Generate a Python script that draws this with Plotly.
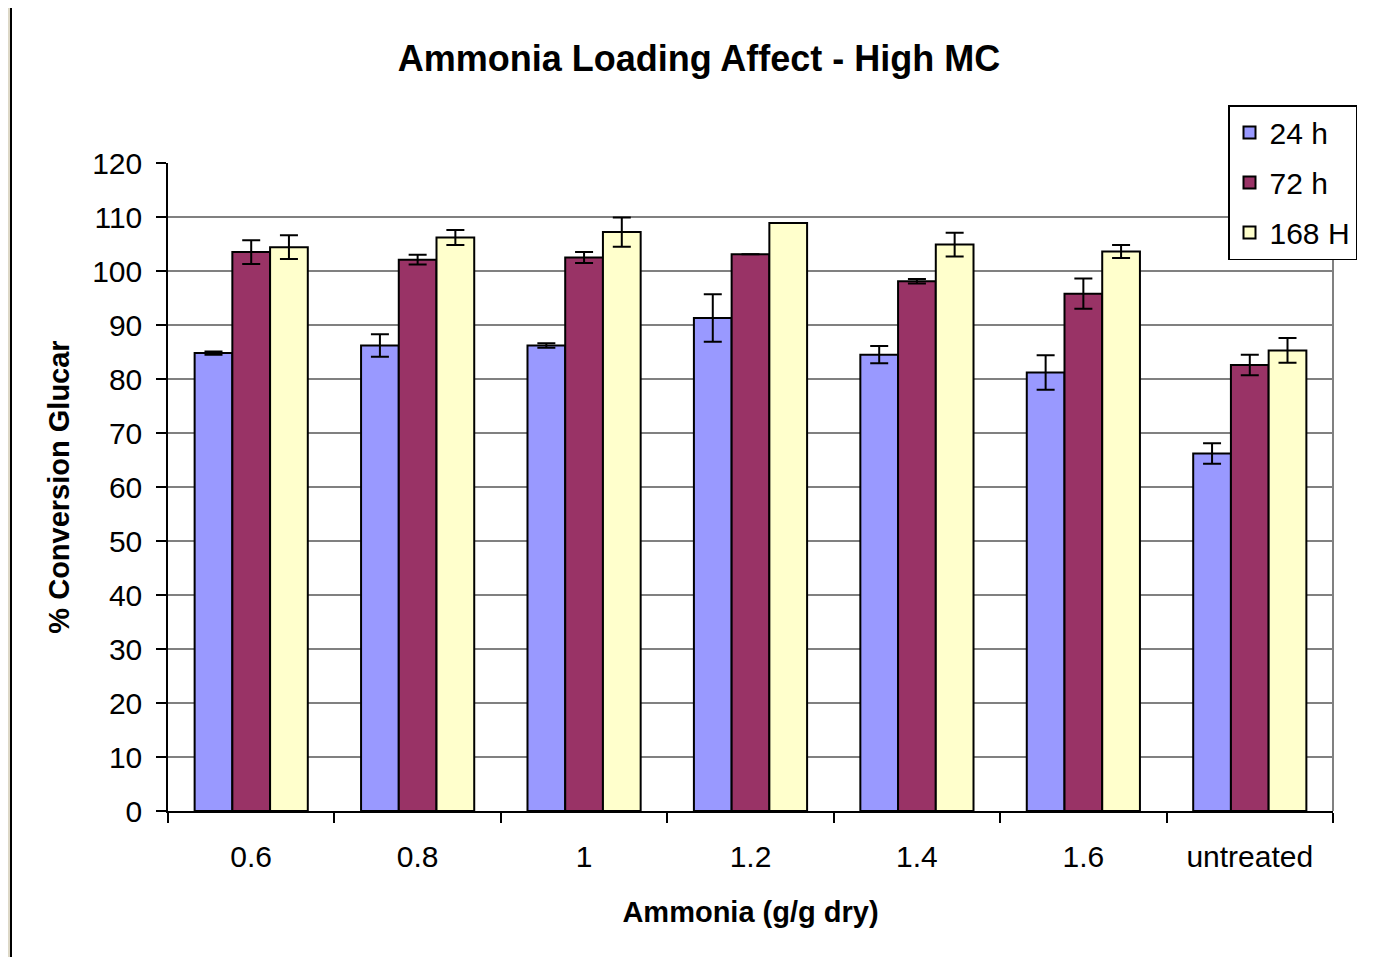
import plotly.graph_objects as go

categories = ["0.6", "0.8", "1", "1.2", "1.4", "1.6", "untreated"]
series_names = ["24 h", "72 h", "168 H"]
values_24h = [84.8, 86.2, 86.2, 91.3, 84.5, 81.2, 66.2]
values_72h = [103.5, 102.1, 102.5, 103.1, 98.1, 95.8, 82.6]
values_168h = [104.4, 106.2, 107.2, 108.9, 104.9, 103.6, 85.3]
err_24h = [0.3, 2.1, 0.4, 4.4, 1.6, 3.2, 1.9]
err_72h = [2.2, 0.9, 1.0, 0.0, 0.4, 2.8, 1.9]
err_168h = [2.2, 1.4, 2.7, 0.0, 2.2, 1.2, 2.3]
colors = ["#9999FF", "#993366", "#FFFFCC"]
y_ticks = [0, 10, 20, 30, 40, 50, 60, 70, 80, 90, 100, 110, 120]

FONT = "Liberation Sans, Arial, sans-serif"

fig = go.Figure()
for i, (name, vals, errs) in enumerate(zip(series_names,
                                           [values_24h, values_72h, values_168h],
                                           [err_24h, err_72h, err_168h])):
    fig.add_trace(go.Bar(
        name=name, x=categories, y=vals,
        marker=dict(color=colors[i], line=dict(color="black", width=2)),
        error_y=dict(type="data", array=errs, visible=True,
                     color="black", thickness=2, width=9),
        legendgroup=name,
    ))

# page body has an 8px margin; work in page pixels and shift
OFF = 8
W, H = 1385 - OFF, 957 - OFF
L, R, T, B = 168 - OFF, 1333 - OFF, 163 - OFF, 811 - OFF
pw, ph = R - L, B - T

def px_x(x):
    return (x - OFF - L) / pw

def px_y(y):
    return (B - (y - OFF)) / ph

fig.update_layout(
    width=W, height=H,
    margin=dict(l=L, r=W - R, t=T, b=H - B, autoexpand=False),
    paper_bgcolor="#DDD8C7",
    plot_bgcolor="white",
    barmode="group",
    bargap=0.32,
    bargroupgap=0,
    font=dict(family=FONT, size=30, color="black"),
    title=dict(text="<b>Ammonia Loading Affect - High MC</b>",
               x=(699 - OFF) / W, xref="container", xanchor="center",
               y=1 - (58 - OFF) / H, yref="container", yanchor="middle",
               font=dict(family=FONT, size=36, color="black")),
    legend=dict(x=px_x(1228), y=px_y(105), xanchor="left", yanchor="top",
                bordercolor="black", borderwidth=1.5, bgcolor="white",
                font=dict(family=FONT, size=30, color="black"),
                traceorder="grouped", tracegroupgap=8,
                itemwidth=30),
    xaxis=dict(
        type="category",
        showline=True, linecolor="black", linewidth=1.5,
        ticks="outside", tickson="boundaries", ticklen=10,
        tickcolor="black", tickwidth=1.5,
        ticklabelstandoff=18,
        tickfont=dict(family=FONT, size=30, color="black"),
        title=dict(text="<b>Ammonia (g/g dry)</b>", standoff=30,
                   font=dict(family=FONT, size=29, color="black")),
        showgrid=False,
    ),
    yaxis=dict(
        range=[0, 120], tickvals=y_ticks,
        showline=True, linecolor="black", linewidth=1.5,
        ticks="outside", ticklen=10, tickcolor="black", tickwidth=1.5,
        ticklabelstandoff=8,
        tickfont=dict(family=FONT, size=30, color="black"),
        showgrid=True, gridcolor="#808080", gridwidth=1.5,
        zeroline=False,
        title=dict(text="<b>% Conversion Glucar</b>", standoff=14,
                   font=dict(family=FONT, size=29, color="black")),
    ),
    shapes=[
        dict(type="rect", xref="paper", yref="paper",
             x0=px_x(11), x1=px_x(1384), y0=px_y(965), y1=px_y(4),
             fillcolor="white", line=dict(color="black", width=2),
             layer="below"),
        dict(type="line", xref="paper", yref="paper",
             x0=1, x1=1, y0=0, y1=1,
             line=dict(color="#808080", width=2), layer="below"),
    ],
)

fig.write_html("out.html")
